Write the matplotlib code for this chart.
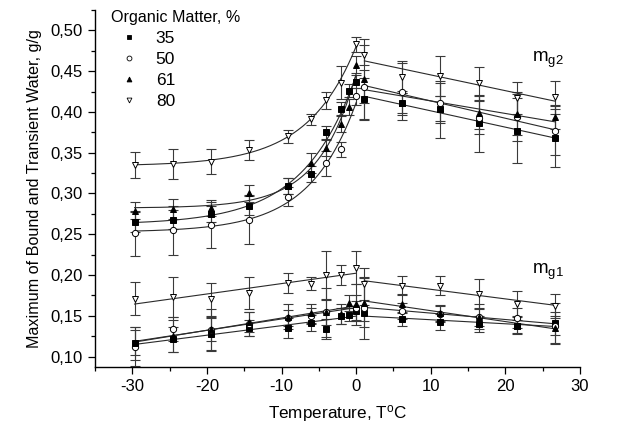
import numpy as np
import matplotlib
matplotlib.use("Agg")
import matplotlib.pyplot as plt
from matplotlib.ticker import MultipleLocator, FuncFormatter
from matplotlib.lines import Line2D

plt.rcParams['font.family'] = ['Liberation Sans', 'DejaVu Sans']
plt.rcParams['font.size'] = 12
plt.rcParams['mathtext.default'] = 'regular'
plt.rcParams['axes.unicode_minus'] = False

nan = np.nan

temps = [-29.7, -24.6, -19.5, -14.3, -9.2, -6.1, -4.1, -2.0, -1.0, 0.0,
         1.1, 6.2, 11.3, 16.5, 21.6, 26.7]

labels = ["35", "50", "61", "80"]
markers = ["s", "o", "^", "v"]
faces = ["black", "white", "black", "white"]

# upper group, m_g2
mg2_35 = [0.265, 0.268, 0.275, 0.285, 0.309, 0.324, 0.375, 0.404, 0.426, 0.437,
          0.416, 0.411, 0.403, 0.386, 0.377, 0.368]
mg2_50 = [0.251, 0.255, 0.261, 0.268, 0.296, nan, 0.337, 0.354, nan, 0.419,
          0.431, 0.425, 0.411, 0.393, 0.394, 0.377]
mg2_61 = [0.279, 0.281, 0.282, 0.300, 0.309, 0.337, 0.356, 0.385, 0.406, 0.458,
          0.440, 0.411, 0.404, 0.399, 0.397, 0.394]
mg2_80 = [0.335, 0.336, 0.339, 0.353, 0.370, 0.391, 0.414, 0.436, nan, 0.483,
          0.470, 0.443, 0.444, 0.435, 0.417, 0.418]

mg2_35_err = [0.012, 0.012, 0.010, 0.012, 0.010, 0.010, 0.008, 0.008, 0.008, 0.008,
              0.025, 0.015, 0.035, 0.035, 0.040, 0.035]
mg2_50_err = [0.028, 0.030, 0.028, 0.030, 0.012, nan, 0.015, 0.009, nan, 0.010,
              0.020, 0.035, 0.025, 0.020, 0.030, 0.030]
mg2_61_err = [0.010, 0.012, 0.010, 0.010, 0.010, 0.012, 0.010, 0.010, 0.010, 0.010,
              0.050, 0.012, 0.015, 0.020, 0.025, 0.015]
mg2_80_err = [0.016, 0.018, 0.015, 0.012, 0.008, 0.007, 0.010, 0.020, nan, 0.009,
              0.012, 0.020, 0.025, 0.020, 0.020, 0.020]

# lower group, m_g1
mg1_35 = [0.116, 0.121, 0.127, 0.135, 0.135, 0.141, 0.134, 0.150, 0.151, 0.156,
          0.153, 0.146, 0.142, 0.140, 0.137, 0.141]
mg1_50 = [0.112, 0.134, 0.133, 0.140, 0.147, 0.150, 0.154, nan, nan, 0.160,
          0.160, 0.156, 0.152, 0.148, 0.147, 0.138]
mg1_61 = [0.117, 0.125, 0.134, 0.142, 0.149, 0.153, 0.154, 0.152, 0.166, 0.164,
          0.166, 0.165, 0.153, 0.149, 0.138, 0.135]
mg1_80 = [0.171, 0.173, 0.170, 0.178, 0.190, 0.189, 0.200, 0.200, nan, 0.209,
          0.189, 0.187, 0.187, 0.177, 0.165, 0.162]

mg1_35_err = [0.020, 0.015, 0.020, 0.010, 0.012, 0.010, 0.012, 0.010, 0.008, 0.012,
              0.010, 0.008, 0.010, 0.010, 0.008, 0.025]
mg1_50_err = [0.024, 0.015, 0.025, 0.015, 0.010, 0.010, 0.030, nan, nan, 0.015,
              0.038, 0.010, 0.010, 0.010, 0.012, 0.012]
mg1_61_err = [0.015, 0.020, 0.015, 0.012, 0.015, 0.012, 0.015, 0.012, 0.010, 0.025,
              0.030, 0.012, 0.010, 0.015, 0.010, 0.020]
mg1_80_err = [0.020, 0.024, 0.020, 0.020, 0.012, 0.008, 0.030, 0.012, nan, 0.020,
              0.020, 0.012, 0.012, 0.018, 0.015, 0.015]


# fit y = a + b*exp(t/k), best k from a small grid
def exp_fit(t, y):
    best = None
    for k in np.arange(2.0, 15.0, 0.25):
        A = np.column_stack([np.ones_like(t), np.exp(t / k)])
        coef = np.linalg.lstsq(A, y, rcond=None)[0]
        err = np.sum((A @ coef - y) ** 2)
        if best is None or err < best[0]:
            best = (err, k, coef)
    return best[1], best[2]


def draw_series(ax, vals, errs, marker, face, curved):
    t = np.array(temps)
    v = np.array(vals)
    e = np.array(errs)
    ok = ~np.isnan(v)
    ax.errorbar(t[ok], v[ok], yerr=e[ok], fmt='none', ecolor='#3a3a3a',
                elinewidth=0.8, capsize=3.5, capthick=0.8, zorder=2)

    left = ok & (t <= 0.5)
    right = ok & (t > 0.5)

    tl = np.linspace(t[left].min(), t[left].max(), 200)
    if curved:
        k, c = exp_fit(t[left], v[left])
        yl = c[0] + c[1] * np.exp(tl / k)
    else:
        p = np.polyfit(t[left], v[left], 1)
        yl = np.polyval(p, tl)
    ax.plot(tl, yl, color='#2a2a2a', lw=0.8, zorder=3)

    p = np.polyfit(t[right], v[right], 1)
    tr = np.array([t[right].min(), t[right].max()])
    ax.plot(tr, np.polyval(p, tr), color='#2a2a2a', lw=0.8, zorder=3)

    ax.plot(t[ok], v[ok], linestyle='none', marker=marker, mfc=face,
            mec='black', ms=4.5, mew=0.7, zorder=4)


fig = plt.figure(figsize=(6.19, 4.40), dpi=100)
ax = fig.add_axes([0.1535, 0.1666, 0.7835, 0.8107])

upper = [mg2_35, mg2_50, mg2_61, mg2_80]
upper_err = [mg2_35_err, mg2_50_err, mg2_61_err, mg2_80_err]
lower = [mg1_35, mg1_50, mg1_61, mg1_80]
lower_err = [mg1_35_err, mg1_50_err, mg1_61_err, mg1_80_err]

for i in range(4):
    draw_series(ax, upper[i], upper_err[i], markers[i], faces[i], True)
    draw_series(ax, lower[i], lower_err[i], markers[i], faces[i], False)

ax.set_xlim(-35, 30)
ax.set_ylim(0.0875, 0.525)
ax.xaxis.set_major_locator(MultipleLocator(10))
ax.xaxis.set_minor_locator(MultipleLocator(5))
ax.yaxis.set_major_locator(MultipleLocator(0.05))
ax.yaxis.set_minor_locator(MultipleLocator(0.025))
ax.yaxis.set_major_formatter(FuncFormatter(lambda v, pos: ("%.2f" % v).replace('.', ',')))
ax.tick_params(which='major', direction='out', length=5, width=0.9, labelsize=12, pad=4)
ax.tick_params(which='minor', direction='out', length=3, width=0.9)
ax.spines['top'].set_visible(False)
ax.spines['right'].set_visible(False)
ax.spines['left'].set_linewidth(1.0)
ax.spines['bottom'].set_linewidth(1.0)

ax.set_xlabel("Temperature, T$^o$C", fontsize=12.3, labelpad=6)
ax.set_ylabel("Maximum of Bound and Transient Water, g/g", fontsize=11.6, labelpad=6)

ax.text(23.6, 0.464, "m$_{g2}$", fontsize=13.5, va='center', ha='left')
ax.text(23.6, 0.204, "m$_{g1}$", fontsize=13.5, va='center', ha='left')

handles = [Line2D([], [], linestyle='none', marker=markers[i], mfc=faces[i],
                  mec='black', ms=3.5, mew=0.6) for i in range(4)]
leg = ax.legend(handles, labels, title="Organic Matter, %", loc='upper left',
                bbox_to_anchor=(0.0, 1.045), frameon=False, fontsize=12.5,
                title_fontsize=11.6, handlelength=2.1, handletextpad=0.5,
                labelspacing=0.34, alignment='left')

fig.savefig("out.png", dpi=100)
